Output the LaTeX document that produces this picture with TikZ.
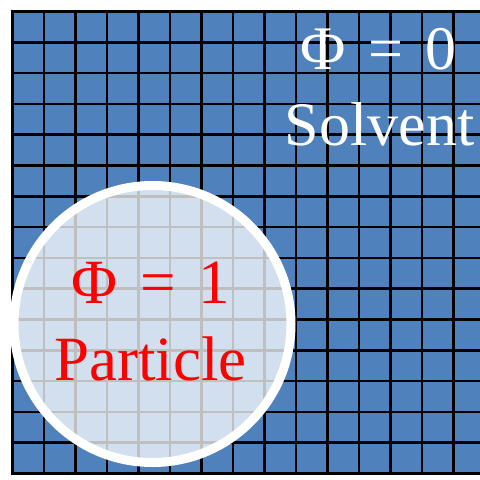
\documentclass[tikz,border=0pt]{standalone}
\usepackage{fontspec}
\setmainfont{Liberation Serif}
\usepackage{xcolor}
\usepackage{tikz}
\usetikzlibrary{positioning}

\definecolor{solventblue}{RGB}{79,129,189}

\begin{document}
\begin{tikzpicture}[x=1pt,y=-1pt]

% Geometry parameters
\def\Xo{12.3}   % left edge of lattice
\def\Yo{11.5}   % top edge of lattice
\def\dX{31.5}   % cell width
\def\dY{30.8}   % cell height
\def\Cx{152.5}  % particle centre x
\def\Cy{324}    % particle centre y
\def\R{138.5}   % particle radius
\def\Gap{\hskip 0.36em}  % wide space round "="

\useasboundingbox (0,0) rectangle (480,480);
\clip (0,0) rectangle (480,480);

% Solvent region (blue fill)
\fill[solventblue] (\Xo,\Yo) rectangle (500,\Yo+15*\dY);

% Lattice lines
\foreach \i in {0,...,15}
  \draw[line width=2.6pt] (\Xo+\i*\dX,\Yo) -- (\Xo+\i*\dX,\Yo+15*\dY);
\foreach \j in {0,...,15}
  \draw[line width=2.6pt] (\Xo-1.3,\Yo+\j*\dY) -- (500,\Yo+\j*\dY);

% Particle (white veil with rim)
\draw[white, line width=9pt, fill=white, fill opacity=0.75] (\Cx,\Cy) circle (\R);

% Phase labels
\node[text=white, font=\fontsize{62}{62}\selectfont, anchor=base] (phizero) at (378.5,69) {Φ\Gap=\Gap0};
\node[text=white, font=\fontsize{62}{62}\selectfont, anchor=base] (solvent) at (379.5,145) {Solvent};
\node[text=red, font=\fontsize{63}{63}\selectfont, anchor=base] (phione) at (151,303) {Φ\Gap=\Gap1};
\node[text=red, font=\fontsize{63}{63}\selectfont, anchor=base] (particle) at (150.5,380) {Particle};

\end{tikzpicture}
\end{document}
